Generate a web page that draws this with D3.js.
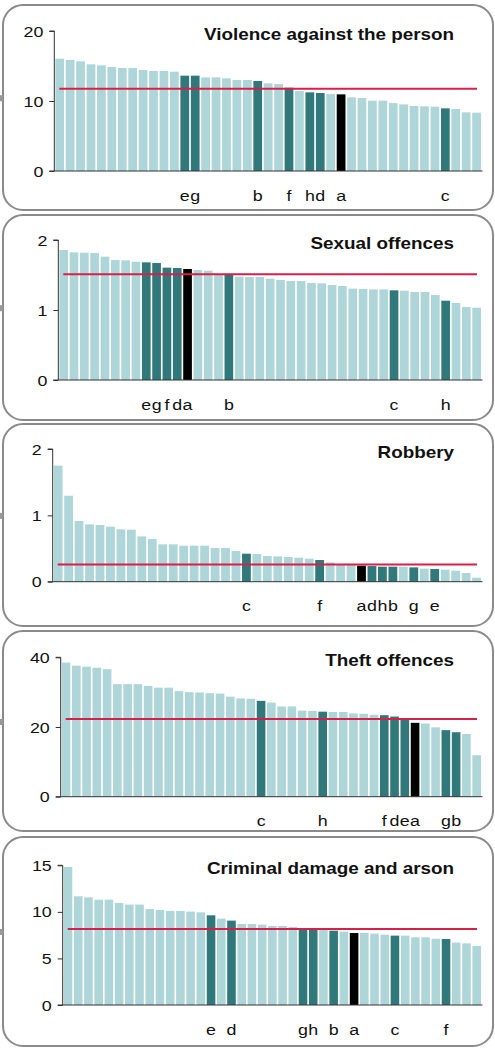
<!DOCTYPE html>
<html>
<head>
<meta charset="utf-8">
<script src="https://cdn.jsdelivr.net/npm/d3@7/dist/d3.min.js"></script>
<style>
  body { margin: 0; background: #fff; }
  svg { display: block; }
  text { font-family: "Liberation Sans", Arial, sans-serif; fill: #111; }
</style>
</head>
<body>
<svg id="chart" width="495" height="1048"></svg>
<script>
// values, one bar per area, sorted high to low
const violenceValues = [16.05, 15.86, 15.67, 15.24, 15.1, 14.86, 14.71, 14.71, 14.43, 14.29,
  14.29, 14.19, 13.62, 13.62, 13.38, 13.38, 13.24, 13.0, 13.0, 12.86,
  12.52, 12.43, 11.9, 11.43, 11.24, 11.14, 11.0, 10.95, 10.52, 10.43,
  10.05, 10.05, 9.71, 9.52, 9.29, 9.24, 9.19, 8.95, 8.86, 8.38, 8.33];
const violenceLabels = ["","","","","","","","","","","","","e","g","","","","","","b",
  "","","f","","h","d","","a","","","","","","","","","","c","","",""];

const sexualValues = [1.857, 1.824, 1.819, 1.814, 1.762, 1.714, 1.71, 1.69, 1.681, 1.671,
  1.605, 1.6, 1.586, 1.571, 1.562, 1.51, 1.505, 1.476, 1.471, 1.471,
  1.448, 1.429, 1.414, 1.414, 1.386, 1.381, 1.357, 1.343, 1.305, 1.3,
  1.295, 1.295, 1.281, 1.276, 1.257, 1.257, 1.214, 1.133, 1.1, 1.043, 1.033];
const sexualLabels = ["","","","","","","","","e","g","f","d","a","","","","b","","","",
  "","","","","","","","","","","","","c","","","","","h","","",""];

const robberyValues = [1.749, 1.296, 0.915, 0.864, 0.854, 0.829, 0.789, 0.784, 0.683, 0.643,
  0.563, 0.563, 0.543, 0.543, 0.543, 0.508, 0.508, 0.462, 0.422, 0.417,
  0.387, 0.382, 0.372, 0.362, 0.347, 0.327, 0.291, 0.261, 0.261, 0.241,
  0.236, 0.226, 0.226, 0.226, 0.216, 0.196, 0.191, 0.181, 0.166, 0.131, 0.06];
const robberyLabels = ["","","","","","","","","","","","","","","","","","","c","",
  "","","","","","f","","","","a","d","h","b","","g","","e","","","",""];

const theftValues = [38.5, 37.6, 37.3, 37.0, 36.6, 32.3, 32.3, 32.3, 31.8, 31.3,
  31.3, 30.3, 30.0, 29.9, 29.7, 29.6, 28.7, 28.2, 28.1, 27.5,
  27.0, 25.9, 25.9, 24.7, 24.6, 24.4, 24.3, 24.3, 23.9, 23.8,
  23.5, 23.4, 23.0, 22.5, 21.2, 21.0, 19.9, 19.1, 18.5, 18.0, 11.9];
const theftLabels = ["","","","","","","","","","","","","","","","","","","","c",
  "","","","","","h","","","","","","f","d","e","a","","","g","b","",""];

const damageValues = [14.82, 11.67, 11.56, 11.31, 11.31, 10.96, 10.78, 10.78, 10.31, 10.2,
  10.1, 10.1, 10.03, 9.95, 9.63, 9.27, 9.06, 8.7, 8.7, 8.63,
  8.49, 8.49, 8.38, 8.23, 8.2, 8.13, 7.98, 7.88, 7.73, 7.73,
  7.66, 7.55, 7.45, 7.45, 7.27, 7.27, 7.12, 7.09, 6.7, 6.62, 6.34];
const damageLabels = ["","","","","","","","","","","","","","","e","","d","","","",
  "","","","g","h","","b","","a","","","","c","","","","","f","","",""];

const titles = ["Violence against the person", "Sexual offences", "Robbery", "Theft offences", "Criminal damage and arson"];
const averages = [11.76, 1.51, 0.261, 22.3, 8.16];
const yTicks = [[0, 10, 20], [0, 1, 2], [0, 1, 2], [0, 20, 40], [0, 5, 10, 15]];
const yMax = [20, 2, 2, 40, 15];

const allValues = [violenceValues, sexualValues, robberyValues, theftValues, damageValues];
const allLabels = [violenceLabels, sexualLabels, robberyLabels, theftLabels, damageLabels];

// layout of the five boxes (pixels)
const boxes = [
  {top: 5, bottom: 210, axisX: 54.3, yTop: 31, yBase: 171},
  {top: 215, bottom: 420, axisX: 58.3, yTop: 240, yBase: 380},
  {top: 424, bottom: 626, axisX: 52.7, yTop: 449, yBase: 581.7},
  {top: 631, bottom: 831, axisX: 60.7, yTop: 657.3, yBase: 796.7},
  {top: 837, bottom: 1046, axisX: 62.7, yTop: 865.3, yBase: 1005}
];

const light = "#aed6d9", dark = "#31787a", red = "#d71f48";
const stretch = 1.15;  // text in the picture is a little wide

const svg = d3.select("#chart");

function wideText(g, x, y, str, size, anchor, weight) {
  g.append("text")
    .attr("transform", `translate(${x},${y}) scale(${stretch},1)`)
    .attr("text-anchor", anchor)
    .attr("font-size", size)
    .attr("font-weight", weight || "normal")
    .text(str);
}

boxes.forEach((b, i) => {
  const g = svg.append("g");
  const values = allValues[i];
  const labels = allLabels[i];
  const idx = values.map((d, j) => j);

  g.append("rect")
    .attr("x", 3).attr("y", b.top)
    .attr("width", 490).attr("height", b.bottom - b.top)
    .attr("rx", 20).attr("ry", 20)
    .attr("fill", "#fff")
    .attr("stroke", "#8a8a8a").attr("stroke-width", 2);

  // small grey stub sticking out on the left edge
  g.append("rect")
    .attr("x", 0).attr("y", b.top + (b.bottom - b.top) * 0.44)
    .attr("width", 3).attr("height", 6)
    .attr("fill", "#999");

  const x = d3.scaleBand()
    .domain(idx)
    .range([b.axisX, 482])
    .paddingInner(0.16)
    .paddingOuter(0.1);

  const y = d3.scaleLinear()
    .domain([0, yMax[i]])
    .range([b.yBase, b.yTop]);

  g.selectAll(".bar")
    .data(idx)
    .enter()
    .append("rect")
    .attr("x", j => x(j))
    .attr("y", j => y(values[j]))
    .attr("width", x.bandwidth())
    .attr("height", j => b.yBase - y(values[j]))
    .attr("fill", j => labels[j] === "a" ? "#000" : (labels[j] ? dark : light));

  // average line
  g.append("line")
    .attr("x1", b.axisX + 5).attr("x2", 477)
    .attr("y1", y(averages[i])).attr("y2", y(averages[i]))
    .attr("stroke", red).attr("stroke-width", 2);

  // axes
  const yAxis = g.append("g")
    .attr("transform", `translate(${b.axisX},0)`)
    .call(d3.axisLeft(y).tickValues(yTicks[i]).tickSize(5).tickFormat(""));
  yAxis.select(".domain").attr("stroke", "#333").attr("d", `M-5,${b.yTop}H0V${b.yBase}`);
  yAxis.selectAll(".tick line").attr("stroke", "#333");

  yTicks[i].forEach(t => {
    wideText(g, b.axisX - 11, y(t) + 5.5, String(t), 15.5, "end");
  });

  g.append("line")
    .attr("x1", b.axisX - 5).attr("x2", 482.5)
    .attr("y1", b.yBase).attr("y2", b.yBase)
    .attr("stroke", "#333").attr("stroke-width", 1);

  // letters under the highlighted bars
  idx.filter(j => labels[j]).forEach(j => {
    wideText(g, x(j) + x.bandwidth() / 2, b.yBase + 29.5, labels[j], 15.5, "middle");
  });

  wideText(g, 454, b.yTop + 8.5, titles[i], 16.4, "end", "bold");
});
</script>
</body>
</html>
